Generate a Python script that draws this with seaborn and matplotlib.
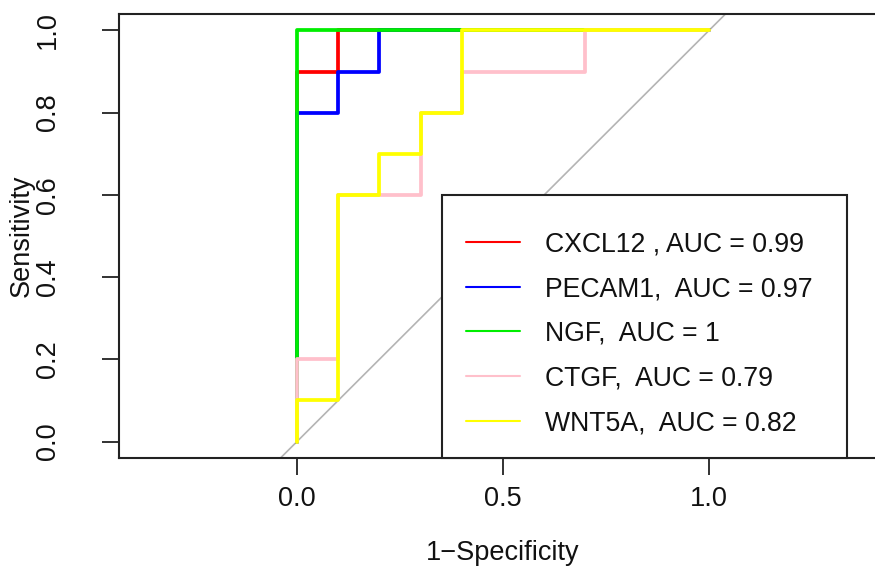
import numpy as np
import pandas as pd
import matplotlib
matplotlib.use("Agg")
import matplotlib.pyplot as plt
from matplotlib.patches import Rectangle
import seaborn as sns

# ROC curve points (x = 1 - specificity, y = sensitivity)
cxcl12_fpr = [0.0, 0.0, 0.1, 0.1, 1.0]
cxcl12_tpr = [0.0, 0.9, 0.9, 1.0, 1.0]
pecam1_fpr = [0.0, 0.0, 0.1, 0.1, 0.2, 0.2, 1.0]
pecam1_tpr = [0.0, 0.8, 0.8, 0.9, 0.9, 1.0, 1.0]
ngf_fpr = [0.0, 0.0, 1.0]
ngf_tpr = [0.0, 1.0, 1.0]
ctgf_fpr = [0.0, 0.0, 0.1, 0.1, 0.3, 0.3, 0.4, 0.4, 0.7, 0.7, 1.0]
ctgf_tpr = [0.0, 0.2, 0.2, 0.6, 0.6, 0.8, 0.8, 0.9, 0.9, 1.0, 1.0]
wnt5a_fpr = [0.0, 0.0, 0.1, 0.1, 0.2, 0.2, 0.3, 0.3, 0.4, 0.4, 1.0]
wnt5a_tpr = [0.0, 0.1, 0.1, 0.6, 0.6, 0.7, 0.7, 0.8, 0.8, 1.0, 1.0]

genes = ["CXCL12", "PECAM1", "NGF", "CTGF", "WNT5A"]
labels = ["CXCL12 , AUC = 0.99", "PECAM1,  AUC = 0.97", "NGF,  AUC = 1",
          "CTGF,  AUC = 0.79", "WNT5A,  AUC = 0.82"]
colors = ["#FF0000", "#0000FF", "#00EE00", "#FFC0CB", "#FFFF00"]
fprs = [cxcl12_fpr, pecam1_fpr, ngf_fpr, ctgf_fpr, wnt5a_fpr]
tprs = [cxcl12_tpr, pecam1_tpr, ngf_tpr, ctgf_tpr, wnt5a_tpr]

x_ticks = [0.0, 0.5, 1.0]
x_ticklabels = ["0.0", "0.5", "1.0"]
y_ticks = [0.0, 0.2, 0.4, 0.6, 0.8, 1.0]
y_ticklabels = ["0.0", "0.2", "0.4", "0.6", "0.8", "1.0"]

sns.set_theme(style="white")
plt.rcParams["font.family"] = ["Liberation Sans", "DejaVu Sans"]
plt.rcParams["axes.unicode_minus"] = True

FS = 19.5
LFS = 19.2
W, H = 875, 573
fig = plt.figure(figsize=(W / 100, H / 100), dpi=100)
left, right, top, bottom = 119, 887, 14, 458
ax = fig.add_axes([left / W, 1 - bottom / H, (right - left) / W, (bottom - top) / H])
ax.set_xlim(-0.432, 1.432)
ax.set_ylim(-0.04, 1.04)

ax.axline((0, 0), slope=1, color="#B4B4B4", lw=1.2, zorder=1)

for g, lab, c, fx, ty in zip(genes, labels, colors, fprs, tprs):
    df = pd.DataFrame({"fpr": fx, "tpr": ty})
    sns.lineplot(data=df, x="fpr", y="tpr", sort=False, estimator=None,
                 color=c, lw=2.7, label=lab, ax=ax, zorder=2)

for s in ax.spines.values():
    s.set_color("#222222")
    s.set_linewidth(1.5)
    s.set_visible(True)

ax.set_xticks(x_ticks)
ax.set_xticklabels(x_ticklabels)
ax.set_yticks(y_ticks)
ax.set_yticklabels(y_ticklabels, rotation=90, va="center")
ax.tick_params(axis="both", direction="out", length=12, width=1.3,
               color="#222222", labelsize=FS, labelcolor="#111111",
               bottom=True, left=True)
ax.tick_params(axis="x", pad=8.5)
ax.tick_params(axis="y", pad=30)

ax.set_xlabel("1\u2212Specificity", fontsize=FS, color="#111111", labelpad=20)
ax.set_ylabel("Sensitivity", fontsize=FS, color="#111111", labelpad=0)

# legend box (frame) and entries
leg_x0, leg_w, leg_h = 0.4206, 0.5274, 0.592
ax.add_patch(Rectangle((leg_x0, 0.0), leg_w, leg_h, transform=ax.transAxes,
                       facecolor="white", edgecolor="#222222", lw=1.5,
                       zorder=3, clip_on=False))
leg = ax.legend(loc="lower left", bbox_to_anchor=(leg_x0 + 0.003, 0.0),
                borderaxespad=0, handlelength=2.0, handletextpad=0.95,
                borderpad=0.82, labelspacing=0.70, frameon=False,
                fontsize=LFS)
leg.set_zorder(4)
for t in leg.get_texts():
    t.set_color("#111111")
for h in leg.get_lines():
    h.set_linewidth(1.5)

fig.savefig("out.png", dpi=100)
